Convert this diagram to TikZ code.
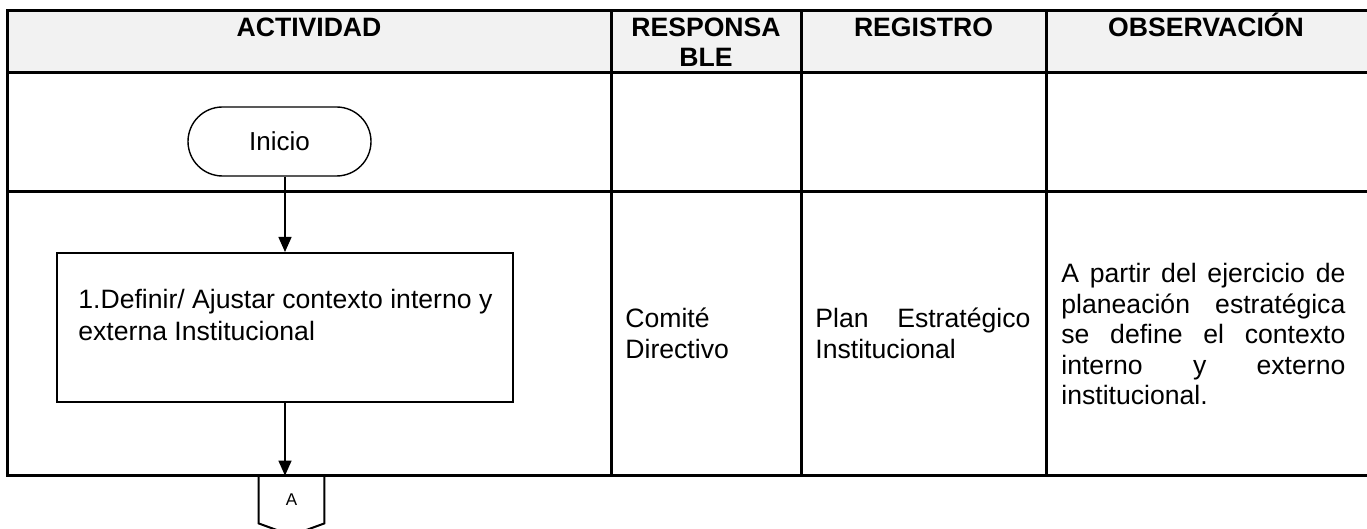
\documentclass[tikz,border=0pt]{standalone}
\usepackage{fontspec}
\setmainfont{Liberation Sans}
\usetikzlibrary{arrows.meta,calc,shapes.misc}
\definecolor{hdrgray}{HTML}{F2F2F2}
\begin{document}
\begin{tikzpicture}[x=0.5pt,y=-0.5pt,
  gridline/.style={line width=1.5pt,line cap=rect},
  hd/.style={font=\fontsize{13.3}{15.5}\selectfont\bfseries,anchor=base,inner sep=0pt},
  bd/.style={font=\fontsize{13.3}{15.5}\selectfont,anchor=base west,inner sep=0pt},
  flow/.style={line width=0.7pt,-{Triangle[width=6.5pt,length=7.5pt]}},
  terminal/.style={draw,line width=0.7pt,rounded rectangle,minimum width=91.5pt,minimum height=34.5pt,inner sep=0pt,font=\fontsize{13}{15.5}\selectfont},
  process/.style={draw,line width=1pt,minimum width=228pt,minimum height=74.5pt,inner sep=0pt},
  offpage/.style={inner sep=0pt,minimum width=32.5pt,minimum height=23.5pt,font=\fontsize{8.5}{10}\selectfont}]
\useasboundingbox (0,0) rectangle (1367,529);
% header background
\fill[hdrgray] (7,11) rectangle (1369,73);
% table grid
\foreach \yy in {11,73,192,476} \draw[gridline] (7,\yy) -- (1369,\yy);
\foreach \xx in {7,611,801,1046,1369} \draw[gridline] (\xx,11) -- (\xx,476);
% header texts
\node[hd] (hact) at (309,37) {ACTIVIDAD};
\node[hd] (hresp1) at (706,37) {RESPONSA};
\node[hd] (hresp2) at (706,67) {BLE};
\node[hd] (hreg) at (923.5,37) {REGISTRO};
\node[hd] (hobs) at (1206,37) {OBSERVACIÓN};
% flow
\node[terminal] (inicio) at (279.5,141.5) {Inicio};
\node[process] (box) at (285,327.5) {};
\node[bd] (bt1) at (78,309) {1.Definir/ Ajustar contexto interno y};
\node[bd] (bt2) at (78,341) {externa Institucional};
\node[offpage] (A) at (291.5,499.5) {A};
\draw[line width=1pt] (A.south west) -- (A.north west) -- (A.north east) -- (A.south east) -- ($(A.south)+(0,12)$) -- cycle;
\draw[flow] (inicio.south -| box.north) -- (box.north);
\draw[flow] (box.south) -- (box.south |- A.north);
% row 2 texts
\node[bd] (resp1) at (625,328) {Comité};
\node[bd] (resp2) at (625,359) {Directivo};
\node[bd] (reg1) at (815,328) {\makebox[107.5pt][s]{Plan Estratégico}};
\node[bd] (reg2) at (815,359) {Institucional};
\node[bd] (obs1) at (1061,283) {\makebox[142pt][s]{A partir del ejercicio de}};
\node[bd] (obs2) at (1061,313.5) {\makebox[142pt][s]{planeación estratégica}};
\node[bd] (obs3) at (1061,344) {\makebox[142pt][s]{se define el contexto}};
\node[bd] (obs4) at (1061,374.5) {\makebox[142pt][s]{interno y externo}};
\node[bd] (obs5) at (1061,405) {institucional.};
\end{tikzpicture}
\end{document}
